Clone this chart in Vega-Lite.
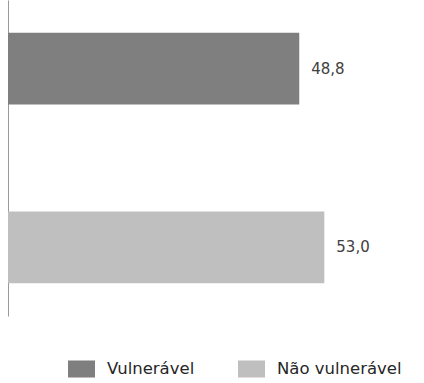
{
  "$schema": "https://vega.github.io/schema/vega-lite/v6.json",
  "autosize": {"type": "none"},
  "padding": {"left": 8, "top": 0, "right": 0, "bottom": 67},
  "width": 416,
  "height": 316,
  "config": {
    "view": {"stroke": null},
    "font": "DejaVu Sans",
    "locale": {"number": {"decimal": ",", "thousands": ".", "grouping": [3], "currency": ["", " €"]}}
  },
  "data": {
    "values": [
      {"grupo": "Vulnerável", "valor": 48.8},
      {"grupo": "Não vulnerável", "valor": 53.0}
    ]
  },
  "encoding": {
    "y": {
      "field": "grupo",
      "type": "nominal",
      "sort": ["Vulnerável", "Não vulnerável"],
      "scale": {"paddingInner": 0.598, "paddingOuter": 0.184},
      "axis": {"title": null, "labels": false, "ticks": false, "domainColor": "#9a9a9a", "domainWidth": 1}
    },
    "x": {
      "field": "valor",
      "type": "quantitative",
      "scale": {"domain": [0, 69.7], "nice": false, "zero": true},
      "axis": null
    }
  },
  "layer": [
    {
      "mark": {"type": "bar"},
      "encoding": {
        "color": {
          "field": "grupo",
          "type": "nominal",
          "sort": ["Vulnerável", "Não vulnerável"],
          "scale": {"domain": ["Vulnerável", "Não vulnerável"], "range": ["#7f7f7f", "#bfbfbf"]},
          "legend": {
            "title": null,
            "orient": "none",
            "direction": "horizontal",
            "legendX": 60,
            "legendY": 355,
            "padding": 0,
            "symbolType": "M-1,-0.63H1V0.63H-1Z",
            "symbolSize": 729,
            "symbolStrokeWidth": 0,
            "symbolOpacity": 1,
            "labelOffset": 12,
            "labelFontSize": 16.5,
            "labelColor": "#262626",
            "labelFont": "DejaVu Sans",
            "columnPadding": 43,
            "labelLimit": 300
          }
        }
      }
    },
    {
      "mark": {"type": "text", "align": "left", "baseline": "middle", "dx": 12, "fontSize": 15, "color": "#404040", "font": "DejaVu Sans"},
      "encoding": {
        "text": {"field": "valor", "type": "quantitative", "format": ".1f"}
      }
    }
  ]
}
